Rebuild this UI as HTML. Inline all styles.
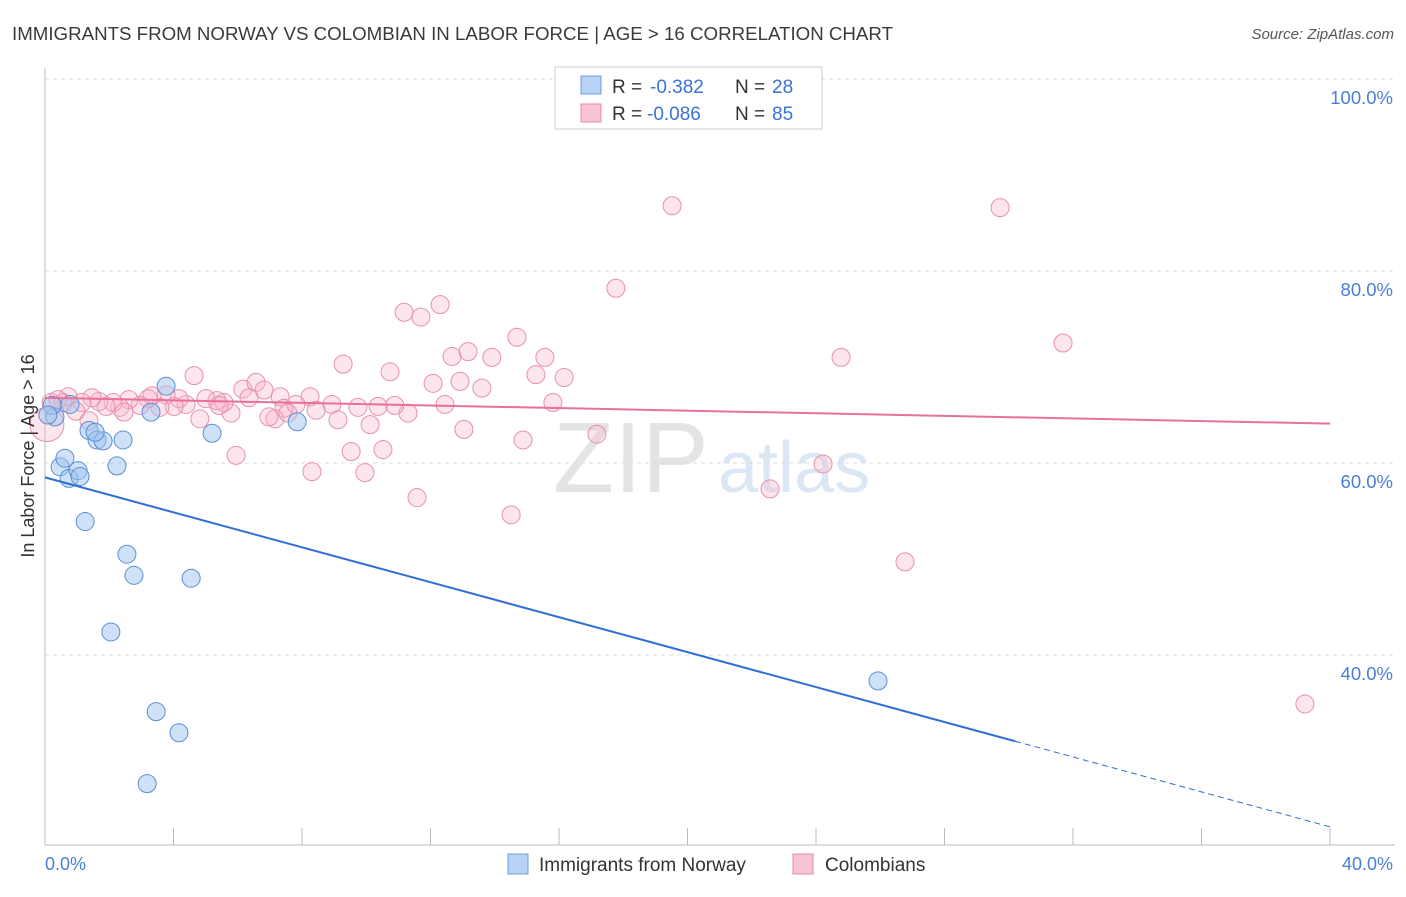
<!DOCTYPE html>
<html><head><meta charset="utf-8"><style>
body{margin:0;background:#fff;font-family:"Liberation Sans",sans-serif;}
svg text{font-family:"Liberation Sans",sans-serif;}
</style></head><body>
<svg id="chart" width="1406" height="892" xmlns="http://www.w3.org/2000/svg">
<text x="12" y="40" font-size="18" fill="#3a3a3a" textLength="881" lengthAdjust="spacingAndGlyphs">IMMIGRANTS FROM NORWAY VS COLOMBIAN IN LABOR FORCE | AGE &gt; 16 CORRELATION CHART</text>
<text x="1394" y="39" font-size="15" fill="#555" text-anchor="end" font-style="italic">Source: ZipAtlas.com</text>
<text x="553" y="492" font-size="100" fill="#e4e4e4" font-family="Liberation Serif,serif">ZIP</text>
<text x="718" y="492" font-size="72" fill="#dbe7f5">atlas</text>
<g id="grid"></g><g id="axes"></g><g id="pink"></g><g id="blue"></g><g id="lines"></g>
<text transform="translate(34,456) rotate(-90)" font-size="18" fill="#333" text-anchor="middle">In Labor Force | Age &gt; 16</text>
<text x="45" y="870" font-size="18" fill="#4a7fd4">0.0%</text>
<text x="1393" y="870" font-size="18" fill="#4a7fd4" text-anchor="end">40.0%</text>
<g>
<rect x="555" y="67" width="267" height="62" fill="#fff" stroke="#ccc"/>
<rect x="581" y="76" width="20" height="18" fill="#b7d2f5" stroke="#6d9ce0"/>
<rect x="581" y="104" width="20" height="18" fill="#f9c5d4" stroke="#e88aa8"/>
<text x="612" y="93" font-size="19" fill="#333">R =</text>
<text x="650" y="93" font-size="19" fill="#3a73d0">-0.382</text>
<text x="735" y="93" font-size="19" fill="#333">N =</text>
<text x="772" y="93" font-size="19" fill="#3a73d0">28</text>
<text x="612" y="120" font-size="19" fill="#333">R =</text>
<text x="647" y="120" font-size="19" fill="#3a73d0">-0.086</text>
<text x="735" y="120" font-size="19" fill="#333">N =</text>
<text x="772" y="120" font-size="19" fill="#3a73d0">85</text>
</g>
<g><rect x="508" y="854" width="20" height="20" fill="#b7d2f5" stroke="#6d9ce0"/><text x="539" y="871" font-size="19" fill="#333">Immigrants from Norway</text></g>
<g><rect x="793" y="854" width="20" height="20" fill="#f9c5d4" stroke="#e88aa8"/><text x="825" y="871" font-size="19" fill="#333">Colombians</text></g>
</svg>
<script>
const yTicks=[100,80,60,40];
const blueX=[0.31,0.22,0.47,0.62,0.75,1.03,1.09,1.25,1.37,1.62,1.81,2.43,2.24,2.55,2.77,2.05,3.30,3.77,5.20,7.85,3.46,4.17,3.18,4.55,25.93,0.09,1.56,0.78];
const blueY=[64.8,66.0,59.6,60.5,58.4,59.2,58.6,53.9,63.4,62.4,62.3,62.4,59.7,50.5,48.3,42.4,65.3,68.0,63.1,64.3,34.1,31.9,26.6,48.0,37.3,65.0,63.2,66.1];
const pinkX=[19.52,29.73,17.77,12.30,11.18,11.70,14.69,31.69,9.28,12.67,13.17,13.91,15.56,24.78,10.74,15.28,16.16,12.08,12.92,13.60,4.64,6.16,6.57,6.82,15.81,12.45,10.37,9.74,11.30,10.89,8.93,8.25,8.44,9.12,10.12,13.04,14.88,17.18,9.53,10.52,8.31,9.96,11.58,14.51,24.22,22.57,26.77,39.22,5.95,7.32,7.44,7.81,7.16,7.56,6.97,6.35,5.79,5.57,5.35,5.01,4.82,4.39,4.17,4.02,3.77,3.58,3.33,3.21,2.96,2.61,2.33,2.12,1.90,1.68,1.46,1.37,1.15,0.96,0.72,0.56,0.40,0.19,0.06,5.42,2.46];
const pinkY=[86.8,86.6,78.2,76.5,75.7,75.2,73.1,72.5,70.3,71.1,71.6,71.0,71.0,71.0,69.5,69.2,68.9,68.3,68.5,67.8,69.1,67.7,68.4,67.6,66.3,66.1,65.9,65.8,65.2,66.0,66.1,66.9,65.5,64.5,64.0,63.5,62.4,63.0,61.2,61.4,59.1,59.0,56.4,54.6,59.9,57.3,49.7,34.9,60.8,66.9,65.7,66.1,64.6,65.2,64.8,66.8,65.2,66.3,66.5,66.7,64.6,66.1,66.7,65.9,67.1,65.8,67.0,66.7,66.0,66.6,65.8,66.3,65.9,66.4,66.8,64.4,66.3,65.4,66.9,66.3,66.6,66.3,64.0,66.0,65.3];
const blueTrend=[58.5,-0.91];
const pinkTrend=[66.8,-0.0675];
const sx=v=>45+v*1285/40, sy=v=>79+(100-v)*9.6;
const NS='http://www.w3.org/2000/svg';
function mk(p,t,a){const e=document.createElementNS(NS,t);for(const k in a)e.setAttribute(k,a[k]);p.appendChild(e);return e;}
const g=document.getElementById('grid'),ax=document.getElementById('axes');
yTicks.forEach(t=>{
 const l=mk(g,'line',{x1:45,x2:1395,y1:sy(t),y2:sy(t),stroke:'#ddd','stroke-dasharray':'4,4'});
 
 
 const tx=mk(g,'text',{x:1393,y:sy(t)+25,'font-size':18.5,fill:'#4a7fd4','text-anchor':'end'});
 tx.textContent=t.toFixed(1)+'%';
 
 
});
const xa=mk(ax,'line',{x1:45,x2:1395,y1:845,y2:845,stroke:'#bbb'});


const ya=mk(ax,'line',{x1:45,x2:45,y1:68,y2:845,stroke:'#bbb'});


for(let k=1;k<=10;k++){const t=mk(ax,'line',{x1:sx(k*4),x2:sx(k*4),y1:828,y2:845,stroke:'#bbb'});
 
 }
const pg=document.getElementById('pink');
pinkX.forEach((x,i)=>{const c=mk(pg,'circle',{cx:sx(x),cy:sy(pinkY[i]),r:i==82?17:9,fill:'rgba(248,180,200,0.35)',stroke:'#e890ac','stroke-width':1});
 
 });
const bg=document.getElementById('blue');
blueX.forEach((x,i)=>{const c=mk(bg,'circle',{cx:sx(x),cy:sy(blueY[i]),r:9,fill:'rgba(160,196,240,0.5)',stroke:'#5b8fd8','stroke-width':1});
 
 });
const lg=document.getElementById('lines');
const bl=mk(lg,'line',{x1:sx(0),y1:sy(blueTrend[0]),x2:sx(30.2),y2:sy(blueTrend[0]+blueTrend[1]*30.2),stroke:'#2f6fd6','stroke-width':2});


const bd=mk(lg,'line',{x1:sx(30.2),y1:sy(blueTrend[0]+blueTrend[1]*30.2),x2:sx(40),y2:sy(blueTrend[0]+blueTrend[1]*40),stroke:'#2f6fd6','stroke-width':1,'stroke-dasharray':'6,4'});


const pl=mk(lg,'line',{x1:sx(0),y1:sy(pinkTrend[0]),x2:sx(40),y2:sy(pinkTrend[0]+pinkTrend[1]*40),stroke:'#e8709a','stroke-width':2});


</script>
</body></html>
